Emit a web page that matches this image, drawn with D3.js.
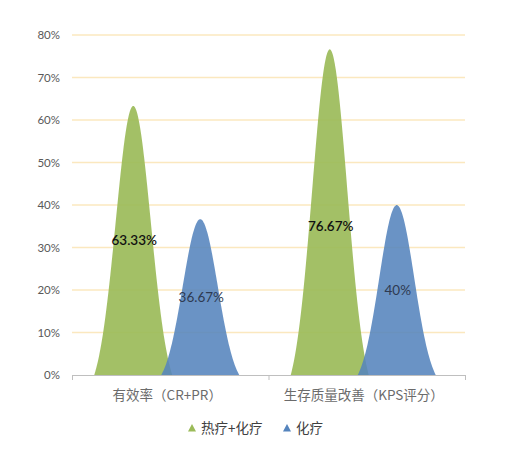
<!DOCTYPE html>
<html><head><meta charset="utf-8">
<script src="https://cdn.jsdelivr.net/npm/d3@7"></script>
<style>html,body{margin:0;padding:0;background:#fff;}</style>
</head><body>
<svg id="chart" width="505" height="459"></svg>
<script>
const categories = ["有效率（CR+PR）", "生存质量改善（KPS评分）"];
const seriesNames = ["热疗+化疗", "化疗"];
const seriesHotChemo = [63.33, 76.67];
const seriesChemo = [36.67, 40];
const yTicks = [0, 10, 20, 30, 40, 50, 60, 70, 80];
const colors = ["#9bbb59", "#5584bd"];
const labelColors = ["#111111", "#2e3a52"];

(function () {
const svg = d3.select("#chart");
const mLeft = 72, mRight = 465, mTop = 35, mBottom = 375;

const x = d3.scaleBand().domain(categories).range([mLeft, mRight]).padding(0);
const inner = d3.scalePoint().domain(seriesNames).range([-37, 30]);
const y = d3.scaleLinear().domain([0, 80]).range([mBottom, mTop]);

// gridlines
svg.append("g").selectAll("line").data(yTicks.filter(d => d > 0)).join("line")
  .attr("x1", mLeft).attr("x2", mRight)
  .attr("y1", d => y(d)).attr("y2", d => y(d))
  .attr("stroke", "#fbe8bf").attr("stroke-width", 1.5);

// y axis labels
svg.append("g").selectAll("text").data(yTicks).join("text")
  .attr("x", 60).attr("y", d => y(d)).attr("dy", "0.35em")
  .attr("text-anchor", "end")
  .attr("font-family", "Lato, 'Open Sans', sans-serif").attr("font-size", 11.5)
  .attr("fill", "#595959")
  .text(d => d + "%");

// peak shapes
const hw = 39, sigma = 17.5;
const g0 = Math.exp(-hw * hw / (2 * sigma * sigma));
const series = [seriesHotChemo, seriesChemo];
const line = d3.line().x(d => d[0]).y(d => d[1]).curve(d3.curveBasis);

series.forEach((vals, si) => {
  vals.forEach((v, ci) => {
    const cx = x(categories[ci]) + x.bandwidth() / 2 + inner(seriesNames[si]);
    const h = y(0) - y(v);
    const pts = d3.range(-hw, hw + 0.01, 1).map(t => {
      const f = (Math.exp(-t * t / (2 * sigma * sigma)) - g0) / (1 - g0);
      return [cx + t, y(0) - f * h];
    });
    svg.append("path").attr("d", line(pts) + "Z")
      .attr("fill", colors[si]).attr("fill-opacity", si === 0 ? 0.92 : 0.88);
  });
});

// x axis
const axis = svg.append("g").attr("stroke", "#bfbfbf").attr("stroke-width", 1);
axis.append("line").attr("x1", mLeft).attr("x2", mRight).attr("y1", mBottom + 0.5).attr("y2", mBottom + 0.5);
const tickXs = [mLeft, ...categories.map(c => x(c) + x.bandwidth())];
axis.selectAll("line.tk").data(tickXs).join("line").attr("class", "tk")
  .attr("x1", d => d + 0.5).attr("x2", d => d + 0.5)
  .attr("y1", mBottom).attr("y2", mBottom + 5);

// category labels
svg.append("g").selectAll("text").data(categories).join("text")
  .attr("x", d => x(d) + x.bandwidth() / 2 - 3).attr("y", 400)
  .attr("text-anchor", "middle")
  .attr("font-family", "'Noto Sans CJK SC', sans-serif").attr("font-size", 13.5)
  .attr("fill", "#6b6b6b")
  .text(d => d);

// data labels
series.forEach((vals, si) => {
  vals.forEach((v, ci) => {
    const cx = x(categories[ci]) + x.bandwidth() / 2 + inner(seriesNames[si]);
    svg.append("text")
      .attr("x", cx + 1).attr("y", y(Math.min(v / 2, 35))).attr("dy", "0.35em")
      .attr("text-anchor", "middle")
      .attr("font-family", "Lato, 'Open Sans', sans-serif").attr("font-size", 13.5)
      .attr("font-weight", si === 0 ? 600 : 400)
      .attr("fill", labelColors[si])
      .text(d3.format(",")(v) + "%");
  });
});

// legend
const legendItems = [{name: seriesNames[0], x: 192}, {name: seriesNames[1], x: 287}];
const lg = svg.append("g");
legendItems.forEach((it, i) => {
  lg.append("path")
    .attr("d", `M${it.x},${424} L${it.x + 4},${431.5} L${it.x - 4},${431.5} Z`)
    .attr("fill", colors[i]);
  lg.append("text").attr("x", it.x + 9).attr("y", 428).attr("dy", "0.35em")
    .attr("font-family", "'Noto Sans CJK SC', sans-serif").attr("font-size", 13.5)
    .attr("fill", "#404040")
    .text(it.name);
});
})();
</script>
</body></html>
